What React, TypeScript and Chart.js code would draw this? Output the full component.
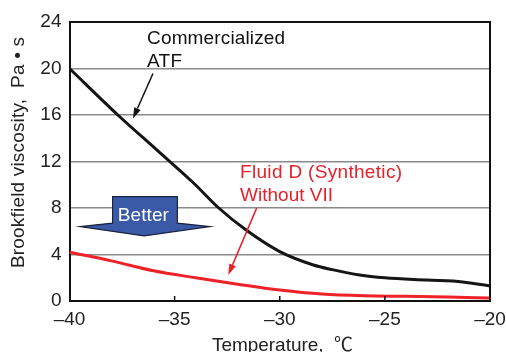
import React, { useEffect, useRef } from "react";
import { Chart, registerables } from "chart.js";

Chart.register(...registerables);

// Temperature (°C) sample points for commercialized ATF
const atfTemps = [-40, -37.7, -35.85, -34.1, -32.9, -31.6, -30, -28.4, -27.5, -26.2, -25, -23, -21.3, -20];
// Commercialized ATF viscosity (Pa·s)
const atfValues = [20, 16, 13.0, 10.15, 8, 6.1, 4.25, 3.1, 2.7, 2.24, 2.0, 1.8, 1.64, 1.29];

const fluidTemps = [-40, -38, -36, -34, -32, -30, -28, -26, -24, -22, -20];
// Fluid D (Synthetic) without VII viscosity (Pa·s)
const fluidValues = [4.2, 3.45, 2.6, 2.0, 1.45, 0.95, 0.6, 0.45, 0.4, 0.35, 0.25];

const xTicks = [-40, -35, -30, -25, -20];
const yTicks = [0, 4, 8, 12, 16, 20, 24];

const FONT = "'Liberation Sans', Arial, 'Noto Sans CJK JP', sans-serif";

function fitText(ctx: CanvasRenderingContext2D, text: string, x: number, y: number, w: number) {
  (ctx as any).letterSpacing = "0px";
  const m = ctx.measureText(text).width;
  const ls = (w - m) / Math.max(1, text.length - 1);
  (ctx as any).letterSpacing = ls.toFixed(2) + "px";
  ctx.textAlign = "left";
  ctx.fillText(text, x, y);
  (ctx as any).letterSpacing = "0px";
}

function arrow(ctx: CanvasRenderingContext2D, x1: number, y1: number, x2: number, y2: number, color: string) {
  const ang = Math.atan2(y2 - y1, x2 - x1);
  const hl = 11, hw = 3.5;
  const bx = x2 - hl * Math.cos(ang), by = y2 - hl * Math.sin(ang);
  ctx.save();
  ctx.strokeStyle = color;
  ctx.fillStyle = color;
  ctx.lineWidth = 1.5;
  ctx.beginPath();
  ctx.moveTo(x1, y1);
  ctx.lineTo(bx, by);
  ctx.stroke();
  ctx.beginPath();
  ctx.moveTo(x2, y2);
  ctx.lineTo(bx + hw * Math.sin(ang), by - hw * Math.cos(ang));
  ctx.lineTo(bx - hw * Math.sin(ang), by + hw * Math.cos(ang));
  ctx.closePath();
  ctx.fill();
  ctx.restore();
}

const decorPlugin = {
  id: "decor",
  afterDatasetsDraw(chart: any) {
    const ctx: CanvasRenderingContext2D = chart.ctx;
    const { left, right, top, bottom } = chart.chartArea;
    const xs = chart.scales.x, ys = chart.scales.y;
    const px = (v: number) => xs.getPixelForValue(v);
    const py = (v: number) => ys.getPixelForValue(v);
    ctx.save();
    // frame top and right
    ctx.strokeStyle = "#111";
    ctx.lineWidth = 2;
    ctx.beginPath();
    ctx.moveTo(left, top);
    ctx.lineTo(right, top);
    ctx.lineTo(right, bottom);
    ctx.stroke();
    // inward x ticks
    ctx.lineWidth = 1.5;
    xTicks.slice(1, -1).forEach((t) => {
      ctx.beginPath();
      ctx.moveTo(px(t), bottom);
      ctx.lineTo(px(t), bottom - 5);
      ctx.stroke();
    });

    // Better arrow
    const bl = px(-37.95), br = px(-34.87), bt = py(8.97), sh = py(6.7);
    const wl = px(-39.5), wr = px(-33.32), wy = py(6.4);
    const tx = px(-36.45), ty = py(5.6);
    ctx.beginPath();
    ctx.moveTo(bl, bt);
    ctx.lineTo(br, bt);
    ctx.lineTo(br, sh);
    ctx.lineTo(wr, wy);
    ctx.lineTo(tx, ty);
    ctx.lineTo(wl, wy);
    ctx.lineTo(bl, sh);
    ctx.closePath();
    ctx.fillStyle = "#3a5aa8";
    ctx.fill();
    ctx.strokeStyle = "#1a2240";
    ctx.lineWidth = 1.2;
    ctx.stroke();
    ctx.fillStyle = "#ffffff";
    ctx.font = `19px ${FONT}`;
    ctx.textBaseline = "alphabetic";
    fitText(ctx, "Better", px(-37.7), py(6.9), 51);

    // annotations
    ctx.font = `19px ${FONT}`;
    ctx.fillStyle = "#111";
    fitText(ctx, "Commercialized", px(-36.31), py(22.07), 138);
    fitText(ctx, "ATF", px(-36.31), py(20.17), 35);
    arrow(ctx, px(-36.03), py(19.57), px(-36.98), py(15.69), "#111");

    ctx.fillStyle = "#e8202a";
    fitText(ctx, "Fluid D (Synthetic)", px(-31.89), py(10.6), 162);
    fitText(ctx, "Without VII", px(-31.89), py(8.56), 93);
    arrow(ctx, px(-31.1), py(7.99), px(-32.45), py(2.24), "#e8202a");

    // axis titles
    ctx.fillStyle = "#222";
    ctx.font = `19px ${FONT}`;
    ctx.textBaseline = "middle";
    ctx.save();
    ctx.translate(19, 152.5);
    ctx.rotate(-Math.PI / 2);
    fitText(ctx, "Brookfield viscosity,  Pa • s", -115.5, 0, 231);
    ctx.restore();
    ctx.font = `19px ${FONT}`;
    ctx.textBaseline = "alphabetic";
    fitText(ctx, "Temperature,  \u2103", 212, 351, 141);
    ctx.restore();
  },
};

export default function App() {
  const ref = useRef<HTMLCanvasElement | null>(null);
  useEffect(() => {
    if (!ref.current) return;
    const chart = new Chart(ref.current, {
      type: "line",
      data: {
        datasets: [
          {
            label: "Commercialized ATF",
            data: atfTemps.map((t, i) => ({ x: t, y: atfValues[i] })),
            borderColor: "#151515",
            borderWidth: 3,
            pointRadius: 0,
            cubicInterpolationMode: "monotone",
            fill: false,
          },
          {
            label: "Fluid D (Synthetic) Without VII",
            data: fluidTemps.map((t, i) => ({ x: t, y: fluidValues[i] })),
            borderColor: "#ee2228",
            borderWidth: 3,
            pointRadius: 0,
            cubicInterpolationMode: "monotone",
            fill: false,
          },
        ],
      },
      options: {
        animation: false,
        responsive: false,
        devicePixelRatio: 1,
        layout: { padding: { top: 22, right: 16, left: 0, bottom: 0 } },
        plugins: { legend: { display: false }, tooltip: { enabled: false } },
        scales: {
          x: {
            type: "linear",
            min: -40,
            max: -20,
            afterBuildTicks: (s: any) => {
              s.ticks = xTicks.map((v) => ({ value: v }));
            },
            afterFit: (s: any) => {
              s.height = 51;
              s.paddingLeft = 0;
              s.paddingRight = 0;
            },
            ticks: {
              color: "#222",
              font: { size: 19, family: FONT },
              padding: 7,
              maxRotation: 0,
              callback: (v: any) => (Number(v) < 0 ? "\u2013" + Math.abs(Number(v)) : String(v)),
            },
            grid: { display: false, drawTicks: false },
            border: { display: true, color: "#111", width: 2 },
          },
          y: {
            min: 0,
            max: 24,
            afterBuildTicks: (s: any) => {
              s.ticks = yTicks.map((v) => ({ value: v }));
            },
            afterFit: (s: any) => {
              s.width = 69.5;
              s.paddingTop = 0;
              s.paddingBottom = 0;
            },
            ticks: {
              color: "#222",
              font: { size: 19, family: FONT },
              padding: 8,
            },
            grid: { color: "#8a8a8a", lineWidth: 1.5, drawTicks: false },
            border: { display: true, color: "#111", width: 2 },
          },
        },
      },
      plugins: [decorPlugin],
    } as any);
    return () => chart.destroy();
  }, []);
  return (
    <div style={{ position: "fixed", left: 0, top: 0, width: 506, height: 352, background: "#fff" }}>
      <canvas ref={ref} width={506} height={352} style={{ display: "block" }} />
    </div>
  );
}
